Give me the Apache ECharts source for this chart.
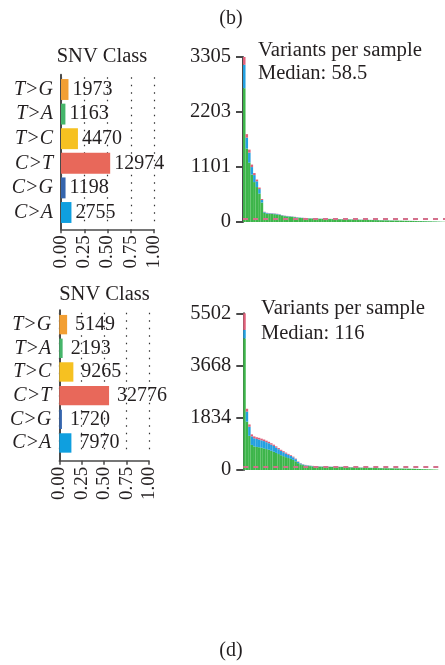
<!DOCTYPE html>
<html>
<head>
<meta charset="utf-8">
<script src="https://cdn.jsdelivr.net/npm/echarts@6/dist/echarts.min.js"></script>
<style>html,body{margin:0;padding:0;background:#fff}#c{width:445px;height:665px}</style>
</head>
<body>
<div id="c"></div>
<script>
// ---------- data ----------
const snvClasses = ['C>A', 'C>G', 'C>T', 'T>C', 'T>A', 'T>G']; // bottom -> top
const snvColors = ['#0f9fdf', '#3565ad', '#e8685a', '#f6c121', '#45b56a', '#f29f33'];
const snvCounts1 = [2755, 1198, 12974, 4470, 1163, 1973];
const snvCounts2 = [7970, 1720, 32776, 9265, 2193, 5149];
const fracTicks = [0, 0.25, 0.5, 0.75, 1.0];

const p1Missense = [2680,1470,1190,950,800,700,570,390,185,168,164,161,157,151,142,128,117,112,108,103,96,88,83,79,76,73,71,69,68,66,64,63,61,60,59,58,57,56,55,54,53,52,51,50,48,47,45,44,43,42,41,39,38,37,35,34,33,32,30,29,29,28,27,25,24,23,22,21,19,18,18,17,15,14,13,11,10,8,6,5];
const p1FrameShift = [470,220,200,150,140,115,90,50,14,12,11,10,10,9,9,8,7,7,7,6,5,5,5,5,4,4,4,4,3,3,3,3,3,3,3,3,3,3,3,3,3,3,3,3,3,3,3,3,2,2,2,2,2,2,2,2,2,2,2,2,1,1,1,1,1,1,1,1,1,1,1,1,1,1,1,1,1,1,1,0];
const p1Nonsense = [155,70,60,50,40,35,30,20,6,5,5,5,5,5,4,4,4,3,3,3,3,3,2,2,2,2,2,2,2,2,2,2,2,2,2,2,2,2,2,2,2,2,1,1,1,1,1,1,1,1,1,1,1,1,1,1,1,1,1,1,1,1,1,1,1,1,1,1,1,1,0,0,0,0,0,0,0,0,0,0];
const p1Max = 3305;
const p1Median = 58.5;

const p2Missense = [4620,1700,1200,880,830,810,800,780,760,735,710,675,640,600,560,520,487,452,420,390,355,305,240,200,172,156,144,136,128,124,120,116,113,112,110,108,106,106,105,104,104,102,98,95,91,88,86,83,80,78,76,74,72,71,69,67,65,64,62,60,59,57,55,53,51,49,47,46,44,42,39,37,34,31,28,26,23,20,17,14];
const p2FrameShift = [300,350,320,300,285,280,270,262,255,242,230,217,205,188,170,153,138,125,115,102,90,75,45,30,20,17,15,13,12,11,10,9,9,8,8,8,8,7,7,7,7,7,7,6,6,6,5,5,5,5,5,5,5,4,4,4,4,3,3,3,3,3,3,3,3,3,3,2,2,2,2,2,2,2,2,1,1,1,1,1];
const p2Nonsense = [582,100,80,70,65,60,60,58,55,53,50,48,45,42,40,37,35,33,30,28,25,20,15,10,8,7,6,6,5,5,5,5,5,5,5,5,5,5,5,5,5,4,4,4,4,4,4,4,4,3,3,3,3,3,3,3,3,3,3,3,2,2,2,2,2,2,2,2,2,2,2,1,1,1,1,1,1,1,1,0];
const p2Max = 5502;
const p2Median = 116;

// ---------- helpers ----------
const SERIF = 'Liberation Serif';
const TXT = '#231f20';
const AX = '#4a4a4a';

function sum(a){ return a.reduce((s,v)=>s+v,0); }

const chart = echarts.init(document.getElementById('c'), null, {renderer: 'canvas'});

const left1 = {left: 61, top: 77.2, width: 93, height: 147.6, off: 4.5, gap: '15%', dist: 4};
const left2 = {left: 59.3, top: 312.8, width: 89.7, height: 142, off: 6, gap: '18%', dist: 8};
const right1 = {left: 243, top: 57, width: 205, height: 165};
const right2 = {left: 243.3, top: 313.3, width: 195, height: 156.7};

const grids = [], xAxes = [], yAxes = [], series = [];

function addSnv(g, counts) {
  const gi = grids.length;
  grids.push({left: g.left, top: g.top, width: g.width, height: g.height});
  const total = sum(counts);
  xAxes.push({
    gridIndex: gi, type: 'value', min: 0, max: 1, interval: 0.25, offset: g.off,
    axisLine: {show: true, lineStyle: {color: AX, width: 1.5}},
    axisTick: {show: true, length: 4, lineStyle: {color: AX, width: 1.5}},
    axisLabel: {rotate: 90, fontFamily: SERIF, fontSize: 19, color: TXT, margin: 6,
      formatter: v => v.toFixed(2)},
    splitLine: {show: true, lineStyle: {type: [1.5, 6], color: '#333', width: 1.2}}
  });
  yAxes.push({
    gridIndex: gi, type: 'category', data: snvClasses,
    axisLine: {show: false}, axisTick: {show: false},
    axisLabel: {interval: 0, fontFamily: SERIF, fontStyle: 'italic', fontSize: 20, color: TXT, margin: 8}
  });
  series.push({
    type: 'bar', xAxisIndex: gi, yAxisIndex: gi, barCategoryGap: g.gap,
    data: counts.map((c, i) => ({value: c / total, itemStyle: {color: snvColors[i]}})),
    label: {show: true, position: 'right', distance: g.dist, fontFamily: SERIF, fontSize: 20, color: TXT,
      formatter: p => String(counts[p.dataIndex])},
    silent: true, animation: false
  });
  // helper grid to draw the full-height left axis line
  const hi = grids.length;
  grids.push({left: g.left, top: g.top - 2.5, width: g.width, height: g.height + g.off + 2.5});
  xAxes.push({gridIndex: hi, type: 'value', show: false});
  yAxes.push({gridIndex: hi, type: 'value', min: 0, max: 1,
    axisLine: {show: true, lineStyle: {color: AX, width: 2}},
    axisTick: {show: false}, axisLabel: {show: false}, splitLine: {show: false}});
}

function addVps(g, miss, fs, non, maxV, med) {
  const gi = grids.length;
  grids.push({left: g.left, top: g.top, width: g.width, height: g.height});
  xAxes.push({gridIndex: gi, type: 'category', data: miss.map((_, i) => 'S' + (i + 1)), show: false,
    boundaryGap: true});
  yAxes.push({
    gridIndex: gi, type: 'value', min: 0, max: maxV, interval: maxV / 3,
    axisLine: {show: true, lineStyle: {color: AX, width: 2}},
    axisTick: {show: true, length: 7, lineStyle: {color: AX, width: 2}},
    axisLabel: {fontFamily: SERIF, fontSize: 20.5, color: TXT, margin: 12,
      formatter: v => String(Math.floor(v + 1e-6))},
    splitLine: {show: false}
  });
  const stack = 'vps' + gi;
  const mk = (name, data, color) => ({
    name, type: 'bar', stack, xAxisIndex: gi, yAxisIndex: gi, data,
    barCategoryGap: '0%', itemStyle: {color}, silent: true, animation: false
  });
  series.push(mk('Missense', miss, '#3db54a'));
  series.push(mk('Frame_Shift', fs, '#24a0e0'));
  const last = mk('Nonsense', non, '#e0607a');
  last.markLine = {silent: true, symbol: 'none', label: {show: false},
    lineStyle: {type: [5, 5], color: '#d4708c', width: 1.8},
    data: [{yAxis: med}]};
  series.push(last);
}

addSnv(left1, snvCounts1);
addVps(right1, p1Missense, p1FrameShift, p1Nonsense, p1Max, p1Median);
addSnv(left2, snvCounts2);
addVps(right2, p2Missense, p2FrameShift, p2Nonsense, p2Max, p2Median);

function txt(x, y, text, align, size) {
  return {type: 'text', x, y, silent: true,
    style: {text, fontFamily: SERIF, fontSize: size || 20, fill: TXT, align: align || 'left', verticalAlign: 'middle'}};
}

chart.setOption({
  animation: false,
  grid: grids, xAxis: xAxes, yAxis: yAxes, series,
  graphic: [
    txt(231, 18.5, '(b)', 'center'),
    txt(102, 56.5, 'SNV Class', 'center', 20.5),
    txt(258, 50.5, 'Variants per sample', 'left', 20.8),
    txt(258, 74, 'Median: ' + p1Median, 'left', 20.5),
    txt(104.5, 295, 'SNV Class', 'center', 20.5),
    txt(261, 309, 'Variants per sample', 'left', 20.8),
    txt(261, 334, 'Median: ' + p2Median, 'left', 20.5),
    txt(231, 651, '(d)', 'center')
  ]
});
</script>
</body>
</html>
